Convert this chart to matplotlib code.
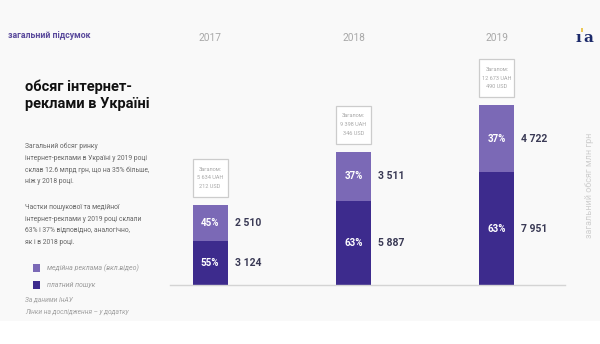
import matplotlib
matplotlib.use("Agg")
import matplotlib.pyplot as plt
from matplotlib.patches import Rectangle

plt.rcParams['font.family'] = ['Roboto', 'DejaVu Sans']

years = ["2017", "2018", "2019"]
search = [3124, 5887, 7951]          # платний пошук
media = [2510, 3511, 4722]           # медійна реклама
search_pct = ["55%", "63%", "63%"]
media_pct = ["45%", "37%", "37%"]
total_uah = ["5 634", "9 398", "12 673"]
total_usd = ["212", "346", "490"]
value_labels_search = ["3 124", "5 887", "7 951"]
value_labels_media = ["2 510", "3 511", "4 722"]

C_MEDIA = "#7b69b6"
C_SEARCH = "#3d2b8d"
DARK = "#3a3a55"

W, H = 600, 344
fig = plt.figure(figsize=(6, 3.44), dpi=100)
fig.patch.set_facecolor("white")

def fx(x):
    return x / W
def fy(y):
    return 1 - y / H

# slide background
fig.patches.append(Rectangle((0, fy(321)), 1, 321 / H, transform=fig.transFigure,
                             facecolor="#f9f9f9", edgecolor="none", zorder=-5))

# bar axes
ax = fig.add_axes([fx(170), fy(285), fx(565) - fx(170), (285 - 20) / H])
ax.set_facecolor("none")
ax.set_zorder(2)
xs = list(range(len(years)))
ax.set_xlim(-0.279, 2.474)
ax.set_ylim(0, 18660)
bw = 0.244
ax.bar(xs, search, width=bw, color=C_SEARCH, zorder=2)
ax.bar(xs, media, width=bw, bottom=search, color=C_MEDIA, zorder=2)
for s in ["top", "right", "left"]:
    ax.spines[s].set_visible(False)
ax.spines["bottom"].set_color("#d4d4d4")
ax.spines["bottom"].set_linewidth(1.0)
ax.set_xticks([])
ax.set_yticks([])

px_per_unit = (285 - 20) / 18660.0
box_gap = 8 / px_per_unit
box_h = 38 / px_per_unit

year_y = (285 - 38) / (285 - 20)
for i in xs:
    s, m = search[i], media[i]
    ax.text(i, s / 2, search_pct[i], color="white", fontsize=7, fontweight="bold",
            ha="center", va="center", zorder=3)
    ax.text(i, s + m / 2, media_pct[i], color="white", fontsize=7, fontweight="bold",
            ha="center", va="center", zorder=3)
    ax.annotate(value_labels_search[i], xy=(i + bw / 2, s / 2), xytext=(7, 0),
                textcoords="offset pixels", color=DARK, fontsize=7.5,
                fontweight="bold", ha="left", va="center")
    ax.annotate(value_labels_media[i], xy=(i + bw / 2, s + m / 2), xytext=(7, 0),
                textcoords="offset pixels", color=DARK, fontsize=7.5,
                fontweight="bold", ha="left", va="center")
    y0 = s + m + box_gap
    ax.add_patch(Rectangle((i - bw / 2, y0), bw, box_h, facecolor="white",
                           edgecolor="#cccccc", lw=0.9, zorder=2, clip_on=False))
    ax.text(i, y0 + box_h / 2, "Загалом:\n%s UAH\n%s USD" % (total_uah[i], total_usd[i]),
            ha="center", va="center", fontsize=4.0, color="#a8a8a8",
            linespacing=1.9, multialignment="center", zorder=3)
    ax.text(i, year_y, years[i], transform=ax.get_xaxis_transform(), ha="center",
            va="center", fontsize=7.3, color="#a8a8a8")

# left texts
fig.text(fx(8), fy(35), "загальний підсумок", fontsize=6.3, fontweight="bold",
         color="#5a4a9c", ha="left", va="center")
fig.text(fx(25), fy(95), "обсяг інтернет-\nреклами в Україні", fontsize=10.5,
         fontweight="bold", color="#111111", ha="left", va="center", linespacing=1.3)
fig.text(fx(25), fy(164), "Загальний обсяг ринку\nінтернет-реклами в Україні у 2019 році\n"
         "склав 12.6 млрд грн, що на 35% більше,\nніж у 2018 році.",
         fontsize=4.9, color="#666666", ha="left", va="center", linespacing=1.9)
fig.text(fx(25), fy(225), "Частки пошукової та медійної\nінтернет-реклами у 2019 році склали\n"
         "63% і 37% відповідно, аналогічно,\nяк і в 2018 році.",
         fontsize=4.9, color="#666666", ha="left", va="center", linespacing=1.9)

# legend
for yy, col, lab in [(268, C_MEDIA, "медійна реклама (вкл.відео)"),
                     (285, C_SEARCH, "платний пошук")]:
    fig.patches.append(Rectangle((fx(33), fy(yy + 4)), 7 / W, 8 / H,
                                 transform=fig.transFigure, facecolor=col,
                                 edgecolor="none"))
    fig.text(fx(47), fy(yy), lab, fontsize=5.0, style="italic", color="#9a9a9a",
             ha="left", va="center")

fig.text(fx(25), fy(300), "За даними ІнАУ", fontsize=4.8, style="italic",
         color="#a0a0a0", ha="left", va="center")
fig.text(fx(25), fy(312), "Лінки на дослідження – у додатку", fontsize=4.8, style="italic",
         color="#a0a0a0", ha="left", va="center")

# right vertical label
fig.text(fx(590), fy(185), "загальний обсяг млн грн", rotation=90, fontsize=6.5,
         color="#cfcfcf", ha="center", va="center")

# logo
fig.text(fx(578), fy(38), "ı", fontsize=11, fontweight="bold", color="#1c2a6a",
         family="DejaVu Serif", ha="center", va="center")
fig.text(fx(582), fy(34), "'", fontsize=9, fontweight="bold", color="#e8b820",
         family="DejaVu Serif", ha="center", va="center")
fig.text(fx(588), fy(38), "a", fontsize=11, fontweight="bold", color="#1c2a6a",
         family="DejaVu Serif", ha="center", va="center")

fig.savefig("out.png", dpi=100)
